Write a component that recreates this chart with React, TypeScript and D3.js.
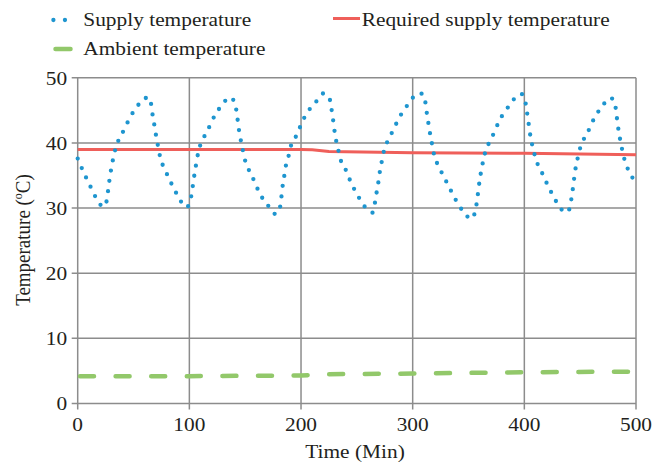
import React from 'react';
import * as d3 from 'd3';

// Supply temperature over time: [minute, °C]
const supplySeries: [number, number][] = [
  [0, 37.6], [4, 36.0], [8, 34.5], [12, 33.1], [16, 31.7], [21, 30.4], [23.5, 30.2], [25.5, 30.8],
  [27.4, 32.9], [28.6, 34.5], [30.1, 36.1], [31.9, 37.7], [34, 39.2], [37.3, 40.7], [41.8, 42.1],
  [45.9, 43.6], [50.7, 45.0], [56.1, 46.2], [61, 46.9], [63.6, 47.0], [65.5, 46.2], [66.8, 44.6],
  [68.4, 43.0], [69.9, 41.4], [71.6, 39.8], [74.3, 37.5], [77.9, 36.0], [81.8, 34.5], [85.9, 33.1],
  [90.1, 31.7], [95.2, 30.4], [97.5, 30.1], [99.5, 30.5], [100.8, 31.2], [102.4, 32.5], [103.6, 34.1],
  [105.1, 35.7], [106.6, 37.3], [108.3, 38.8], [111.6, 40.4], [116.1, 41.8], [120, 43.3], [124.5, 44.7],
  [130.1, 46.0], [134, 46.8], [136.7, 47.0], [139, 46.7], [141.2, 45.8], [142.7, 44.3], [143.9, 42.6],
  [145.4, 41.0], [147.2, 39.5], [149, 37.9], [151.9, 36.4], [156.1, 34.9], [159.7, 33.5], [163.3, 32.1],
  [169.5, 30.7], [174.3, 29.3], [177.5, 29.1], [180.9, 29.9], [182.3, 31.5], [183.3, 33.1], [184.8, 34.7],
  [186.2, 36.3], [188.6, 37.8], [190.7, 39.4], [194.9, 40.8], [198.5, 42.2], [202.4, 43.7], [207.4, 45.1],
  [213.4, 46.3], [217.5, 47.3], [220, 47.6], [223, 47.3], [225.4, 46.9], [227.1, 45.4], [228.6, 43.7],
  [229.8, 42.1], [231.3, 40.5], [233.4, 38.9], [235.5, 37.4], [239.7, 36.0], [243.3, 34.5], [247.4, 33.0],
  [251.9, 31.6], [256.7, 30.3], [261, 29.5], [264, 29.3], [266.3, 30.9], [267.8, 32.5], [269.3, 34.0],
  [270.7, 35.7], [272.5, 37.3], [274.3, 38.8], [277.6, 40.3], [281.8, 41.7], [285.7, 43.1], [290.4, 44.6],
  [295.8, 45.9], [301.5, 47.2], [306, 47.6], [309.2, 47.5], [311.6, 46.0], [312.8, 44.4], [314.3, 42.8],
  [315.8, 41.2], [317.6, 39.6], [319.4, 38.0], [322.7, 36.6], [327, 35.1], [331.2, 33.7], [335.4, 32.3],
  [339.7, 30.9], [345.1, 29.5], [349, 28.7], [351.5, 28.3], [354.5, 28.8], [356.1, 29.5], [357.6, 31.1],
  [358.8, 32.7], [360, 34.3], [361.5, 35.8], [363.3, 37.4], [365.7, 39.0], [369.8, 40.4], [373.7, 41.9],
  [377.6, 43.4], [382.4, 44.8], [387.8, 46.0], [393.7, 47.3], [397.5, 47.5], [400.3, 46.9], [401.8, 45.3],
  [403.3, 43.7], [404.5, 42.1], [406, 40.5], [408.1, 39.0], [410.4, 37.4], [414.3, 36.0], [418.2, 34.5],
  [422.4, 33.0], [426.6, 31.6], [431.6, 30.2], [436, 29.4], [439, 29.4], [441.5, 30.8], [443, 32.4],
  [444.2, 34.0], [445.4, 35.6], [447.2, 37.2], [449.3, 38.8], [452.2, 40.2], [456.7, 41.6], [460.6, 43.1],
  [465.1, 44.5], [470.4, 45.8], [476.7, 46.9], [479.5, 46.7], [481.5, 45.7], [482.7, 44.1], [483.9, 42.5],
  [485.4, 40.9], [487.2, 39.3], [489.3, 37.7], [492.2, 36.2], [496.4, 34.8], [500, 33.6],
];

// Required supply temperature: [minute, °C]
const requiredSeries: [number, number][] = [
  [0, 39.0], [100, 39.0], [200, 39.0], [210, 38.95], [225, 38.7], [300, 38.5], [400, 38.4], [500, 38.2],
];

// Ambient temperature: [minute, °C]
const ambientSeries: [number, number][] = [
  [0, 4.2], [100, 4.2], [200, 4.3], [225, 4.5], [300, 4.6], [400, 4.8], [500, 4.9],
];

const xTicks = [0, 100, 200, 300, 400, 500];
const yTicks = [0, 10, 20, 30, 40, 50];

const W = 668;
const H = 463;
const plot = { left: 77.7, right: 636, top: 77.8, bottom: 403.5 };

const FONT = "'Liberation Serif', 'Times New Roman', Times, 'DejaVu Serif', serif";
const FONT_SIZE = 19.7;
const WIDEN = 1.085; // slightly wide type
const GRID = '#8c8c8c';
const BLUE = '#1e95cf';
const RED = '#ef5f5a';
const GREEN = '#92c86a';
const TEXT = '#231f20';

type LabelProps = {
  x: number;
  y: number;
  anchor?: 'start' | 'middle' | 'end';
  children: React.ReactNode;
};

function Label({ x, y, anchor = 'start', children }: LabelProps) {
  return (
    <text
      transform={`translate(${x},${y}) scale(${WIDEN},1)`}
      textAnchor={anchor}
      style={{ fontFamily: FONT, fontSize: FONT_SIZE }}
      fill={TEXT}
    >
      {children}
    </text>
  );
}

export default function App() {
  const x = d3.scaleLinear().domain([0, 500]).range([plot.left, plot.right]);
  const y = d3.scaleLinear().domain([0, 50]).range([plot.bottom, plot.top]);

  const line = d3
    .line<[number, number]>()
    .x((d) => x(d[0]))
    .y((d) => y(d[1]));
  const smooth = d3
    .line<[number, number]>()
    .x((d) => x(d[0]))
    .y((d) => y(d[1]))
    .curve(d3.curveMonotoneX);

  return (
    <div style={{ position: 'absolute', left: 0, top: 0 }}>
      <svg width={W} height={H} viewBox={`0 0 ${W} ${H}`} style={{ display: 'block', background: '#fff' }}>
        {/* grid */}
        {yTicks.map((t) => (
          <line key={'gy' + t} x1={x(0) - 6} x2={x(500)} y1={y(t)} y2={y(t)} stroke={GRID} strokeWidth={1.5} />
        ))}
        {xTicks.map((t) => (
          <line key={'gx' + t} x1={x(t)} x2={x(t)} y1={y(50)} y2={y(0) + 6} stroke={GRID} strokeWidth={1.5} />
        ))}

        {/* tick labels */}
        {yTicks.map((t) => (
          <Label key={'ty' + t} x={x(0) - 10.5} y={y(t) + 6.8} anchor="end">
            {t}
          </Label>
        ))}
        {xTicks.map((t) => (
          <Label key={'tx' + t} x={x(t)} y={y(0) + 27.5} anchor="middle">
            {t}
          </Label>
        ))}

        {/* axis titles */}
        <Label x={355} y={458} anchor="middle">
          Time (Min)
        </Label>
        <text
          transform={`translate(29.5, 240) scale(${WIDEN},1) rotate(-90)`}
          textAnchor="middle"
          style={{ fontFamily: FONT, fontSize: 19 }}
          fill={TEXT}
        >
          Temperature (<tspan fontSize={12} dy={-7}>o</tspan>
          <tspan dy={7}>C)</tspan>
        </text>

        {/* series */}
        <path
          d={line(ambientSeries) || ''}
          fill="none"
          stroke={GREEN}
          strokeWidth={4.5}
          strokeLinecap="round"
          strokeDasharray="14 21.6"
          strokeDashoffset={-2.3}
        />
        <path d={line(requiredSeries) || ''} fill="none" stroke={RED} strokeWidth={3} />
        <path
          d={smooth(supplySeries) || ''}
          fill="none"
          stroke={BLUE}
          strokeWidth={4.3}
          strokeLinecap="round"
          strokeDasharray="0 10.3"
        />

        {/* legend */}
        <line x1={53.4} x2={76.5} y1={20} y2={20} stroke={BLUE} strokeWidth={4.3} strokeLinecap="round" strokeDasharray="0 11.55" />
        <Label x={83.3} y={25.5}>Supply temperature</Label>
        <line x1={333} x2={360} y1={18.5} y2={18.5} stroke={RED} strokeWidth={3} />
        <Label x={361.7} y={25.5}>Required supply temperature</Label>
        <line x1={55.5} x2={70.5} y1={49} y2={49} stroke={GREEN} strokeWidth={4.5} strokeLinecap="round" />
        <Label x={83.3} y={55}>Ambient temperature</Label>
      </svg>
    </div>
  );
}
